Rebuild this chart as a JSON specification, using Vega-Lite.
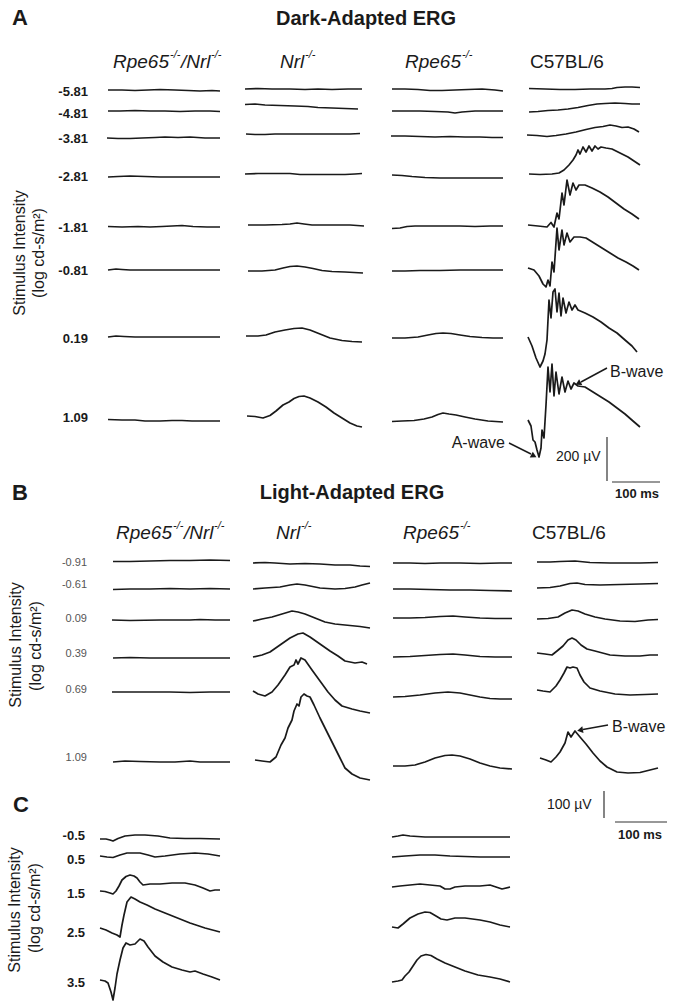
{
"$schema": "https://vega.github.io/schema/vega-lite/v6.json",
"width": 675, "height": 1007,
"autosize": {"type": "fit", "contains": "padding"},
"padding": 0,
"background": "white",
"config": {"view": {"stroke": null}, "font": "Liberation Sans"},
"datasets": {
"traces": [
{"id":"A11","x":108,"y":90},{"id":"A11","x":122,"y":90},{"id":"A11","x":135,"y":90.5},{"id":"A11","x":148,"y":90},{"id":"A11","x":160,"y":89.5},{"id":"A11","x":175,"y":90},{"id":"A11","x":188,"y":90.5},{"id":"A11","x":200,"y":91},{"id":"A11","x":212,"y":90.5},{"id":"A11","x":220,"y":91},
{"id":"A12","x":108,"y":111},{"id":"A12","x":120,"y":111},{"id":"A12","x":135,"y":110.5},{"id":"A12","x":150,"y":111},{"id":"A12","x":165,"y":111},{"id":"A12","x":180,"y":111.5},{"id":"A12","x":195,"y":111},{"id":"A12","x":210,"y":111},{"id":"A12","x":220,"y":111.5},
{"id":"A13","x":107,"y":138},{"id":"A13","x":118,"y":138.5},{"id":"A13","x":130,"y":138.5},{"id":"A13","x":142,"y":138},{"id":"A13","x":155,"y":137.5},{"id":"A13","x":165,"y":137},{"id":"A13","x":178,"y":137.5},{"id":"A13","x":190,"y":137},{"id":"A13","x":205,"y":138},{"id":"A13","x":220,"y":138},
{"id":"A14","x":108,"y":177},{"id":"A14","x":118,"y":176.5},{"id":"A14","x":130,"y":176},{"id":"A14","x":145,"y":176.5},{"id":"A14","x":160,"y":177},{"id":"A14","x":175,"y":177},{"id":"A14","x":190,"y":177},{"id":"A14","x":205,"y":177},{"id":"A14","x":220,"y":177},
{"id":"A15","x":108,"y":226.5},{"id":"A15","x":122,"y":227},{"id":"A15","x":138,"y":226.5},{"id":"A15","x":150,"y":227},{"id":"A15","x":162,"y":226.5},{"id":"A15","x":172,"y":226},{"id":"A15","x":182,"y":225.5},{"id":"A15","x":193,"y":226.5},{"id":"A15","x":207,"y":227},{"id":"A15","x":220,"y":227},
{"id":"A16","x":108,"y":270},{"id":"A16","x":116,"y":269},{"id":"A16","x":122,"y":269.5},{"id":"A16","x":130,"y":270},{"id":"A16","x":145,"y":270},{"id":"A16","x":165,"y":270},{"id":"A16","x":185,"y":270},{"id":"A16","x":205,"y":270},{"id":"A16","x":220,"y":270},
{"id":"A17","x":108,"y":337},{"id":"A17","x":116,"y":336},{"id":"A17","x":124,"y":336.5},{"id":"A17","x":135,"y":337},{"id":"A17","x":155,"y":337},{"id":"A17","x":175,"y":337},{"id":"A17","x":195,"y":337},{"id":"A17","x":220,"y":337},
{"id":"A18","x":108,"y":419.5},{"id":"A18","x":122,"y":420},{"id":"A18","x":135,"y":420},{"id":"A18","x":145,"y":421},{"id":"A18","x":160,"y":421},{"id":"A18","x":172,"y":420.5},{"id":"A18","x":182,"y":420.5},{"id":"A18","x":192,"y":421},{"id":"A18","x":205,"y":421},{"id":"A18","x":220,"y":421},
{"id":"A21","x":245,"y":89},{"id":"A21","x":258,"y":88.5},{"id":"A21","x":272,"y":89},{"id":"A21","x":290,"y":89},{"id":"A21","x":305,"y":89.5},{"id":"A21","x":318,"y":89},{"id":"A21","x":332,"y":89.5},{"id":"A21","x":348,"y":89},{"id":"A21","x":362,"y":89},
{"id":"A22","x":245,"y":104.5},{"id":"A22","x":255,"y":104},{"id":"A22","x":265,"y":105},{"id":"A22","x":280,"y":105.5},{"id":"A22","x":295,"y":106},{"id":"A22","x":308,"y":106.5},{"id":"A22","x":318,"y":107.5},{"id":"A22","x":332,"y":108},{"id":"A22","x":345,"y":108.5},{"id":"A22","x":358,"y":109},
{"id":"A23","x":246,"y":134},{"id":"A23","x":255,"y":134.5},{"id":"A23","x":265,"y":134.5},{"id":"A23","x":275,"y":134},{"id":"A23","x":295,"y":134},{"id":"A23","x":315,"y":134},{"id":"A23","x":335,"y":134},{"id":"A23","x":350,"y":134},{"id":"A23","x":360,"y":133.5},
{"id":"A24","x":245,"y":174},{"id":"A24","x":258,"y":173.5},{"id":"A24","x":272,"y":173.5},{"id":"A24","x":290,"y":173.5},{"id":"A24","x":300,"y":174.5},{"id":"A24","x":315,"y":174.5},{"id":"A24","x":330,"y":174.5},{"id":"A24","x":345,"y":174.5},{"id":"A24","x":355,"y":174},{"id":"A24","x":362,"y":173.5},
{"id":"A25","x":248,"y":225},{"id":"A25","x":265,"y":225},{"id":"A25","x":282,"y":224.5},{"id":"A25","x":290,"y":224},{"id":"A25","x":297,"y":223},{"id":"A25","x":304,"y":224},{"id":"A25","x":312,"y":225},{"id":"A25","x":330,"y":225},{"id":"A25","x":350,"y":225},{"id":"A25","x":364,"y":226},
{"id":"A26","x":248,"y":271},{"id":"A26","x":262,"y":271},{"id":"A26","x":275,"y":270},{"id":"A26","x":283,"y":268},{"id":"A26","x":290,"y":266.5},{"id":"A26","x":297,"y":266},{"id":"A26","x":305,"y":267},{"id":"A26","x":313,"y":268.5},{"id":"A26","x":322,"y":270.5},{"id":"A26","x":332,"y":271.5},{"id":"A26","x":345,"y":272},{"id":"A26","x":363,"y":273},
{"id":"A27","x":246,"y":336},{"id":"A27","x":258,"y":336},{"id":"A27","x":266,"y":335},{"id":"A27","x":275,"y":332},{"id":"A27","x":285,"y":330},{"id":"A27","x":294,"y":328.5},{"id":"A27","x":302,"y":328},{"id":"A27","x":310,"y":330},{"id":"A27","x":320,"y":334},{"id":"A27","x":330,"y":338},{"id":"A27","x":342,"y":340.5},{"id":"A27","x":352,"y":341.5},{"id":"A27","x":362,"y":342},
{"id":"A28","x":247,"y":416},{"id":"A28","x":255,"y":416.5},{"id":"A28","x":263,"y":418},{"id":"A28","x":270,"y":415.5},{"id":"A28","x":276,"y":411},{"id":"A28","x":283,"y":405},{"id":"A28","x":289,"y":402},{"id":"A28","x":294,"y":398.5},{"id":"A28","x":299,"y":396.5},{"id":"A28","x":304,"y":396},{"id":"A28","x":310,"y":398},{"id":"A28","x":318,"y":402},{"id":"A28","x":326,"y":407},{"id":"A28","x":334,"y":413},{"id":"A28","x":342,"y":418},{"id":"A28","x":350,"y":423},{"id":"A28","x":357,"y":426},{"id":"A28","x":362,"y":427},
{"id":"A31","x":392,"y":89},{"id":"A31","x":405,"y":89},{"id":"A31","x":418,"y":89.5},{"id":"A31","x":430,"y":90.5},{"id":"A31","x":442,"y":90.5},{"id":"A31","x":455,"y":90},{"id":"A31","x":468,"y":89.5},{"id":"A31","x":482,"y":89},{"id":"A31","x":495,"y":90},{"id":"A31","x":503,"y":91},
{"id":"A32","x":392,"y":111},{"id":"A32","x":405,"y":111},{"id":"A32","x":420,"y":111},{"id":"A32","x":435,"y":111.5},{"id":"A32","x":448,"y":112},{"id":"A32","x":455,"y":113},{"id":"A32","x":462,"y":112},{"id":"A32","x":475,"y":111},{"id":"A32","x":490,"y":111},{"id":"A32","x":503,"y":111},
{"id":"A33","x":391,"y":136},{"id":"A33","x":405,"y":136},{"id":"A33","x":420,"y":136.5},{"id":"A33","x":435,"y":137},{"id":"A33","x":450,"y":136.5},{"id":"A33","x":465,"y":137},{"id":"A33","x":480,"y":137},{"id":"A33","x":492,"y":137.5},{"id":"A33","x":503,"y":137.5},
{"id":"A34","x":392,"y":175},{"id":"A34","x":402,"y":175.5},{"id":"A34","x":412,"y":176.5},{"id":"A34","x":425,"y":177.5},{"id":"A34","x":440,"y":178},{"id":"A34","x":460,"y":178},{"id":"A34","x":480,"y":178},{"id":"A34","x":503,"y":178},
{"id":"A35","x":392,"y":228.5},{"id":"A35","x":400,"y":228},{"id":"A35","x":407,"y":226.5},{"id":"A35","x":415,"y":226},{"id":"A35","x":430,"y":226},{"id":"A35","x":445,"y":226},{"id":"A35","x":460,"y":226},{"id":"A35","x":475,"y":226.5},{"id":"A35","x":490,"y":226},{"id":"A35","x":503,"y":226},
{"id":"A36","x":392,"y":271},{"id":"A36","x":405,"y":271},{"id":"A36","x":420,"y":270.5},{"id":"A36","x":440,"y":270.5},{"id":"A36","x":460,"y":270},{"id":"A36","x":480,"y":270},{"id":"A36","x":503,"y":270},
{"id":"A37","x":392,"y":338},{"id":"A37","x":405,"y":338},{"id":"A37","x":418,"y":337},{"id":"A37","x":428,"y":335},{"id":"A37","x":436,"y":333.5},{"id":"A37","x":443,"y":333},{"id":"A37","x":451,"y":333.5},{"id":"A37","x":460,"y":335},{"id":"A37","x":470,"y":336.5},{"id":"A37","x":482,"y":337.5},{"id":"A37","x":493,"y":338},{"id":"A37","x":503,"y":338},
{"id":"A38","x":392,"y":421.5},{"id":"A38","x":402,"y":421},{"id":"A38","x":414,"y":420.5},{"id":"A38","x":424,"y":419},{"id":"A38","x":432,"y":417},{"id":"A38","x":438,"y":414.5},{"id":"A38","x":443,"y":413},{"id":"A38","x":449,"y":414},{"id":"A38","x":456,"y":415},{"id":"A38","x":465,"y":417},{"id":"A38","x":475,"y":419},{"id":"A38","x":488,"y":421},{"id":"A38","x":503,"y":422},
{"id":"A41","x":529,"y":88.5},{"id":"A41","x":545,"y":89},{"id":"A41","x":560,"y":89.5},{"id":"A41","x":575,"y":89.5},{"id":"A41","x":590,"y":89},{"id":"A41","x":605,"y":89},{"id":"A41","x":612,"y":88.5},{"id":"A41","x":617,"y":87.5},{"id":"A41","x":625,"y":87},{"id":"A41","x":632,"y":87},{"id":"A41","x":640,"y":87.5},
{"id":"A42","x":529,"y":112},{"id":"A42","x":538,"y":111.5},{"id":"A42","x":548,"y":110.5},{"id":"A42","x":558,"y":110},{"id":"A42","x":568,"y":109},{"id":"A42","x":578,"y":107.5},{"id":"A42","x":588,"y":105.5},{"id":"A42","x":597,"y":104},{"id":"A42","x":605,"y":103.5},{"id":"A42","x":615,"y":103},{"id":"A42","x":625,"y":103.5},{"id":"A42","x":632,"y":104},{"id":"A42","x":640,"y":104},
{"id":"A43","x":527,"y":135},{"id":"A43","x":537,"y":135.5},{"id":"A43","x":547,"y":136.5},{"id":"A43","x":556,"y":135.5},{"id":"A43","x":566,"y":134},{"id":"A43","x":576,"y":132},{"id":"A43","x":586,"y":129.5},{"id":"A43","x":595,"y":127.5},{"id":"A43","x":603,"y":126.5},{"id":"A43","x":610,"y":125},{"id":"A43","x":616,"y":126},{"id":"A43","x":622,"y":127.5},{"id":"A43","x":628,"y":127},{"id":"A43","x":634,"y":129},{"id":"A43","x":639,"y":132},
{"id":"A44","x":529,"y":174},{"id":"A44","x":540,"y":174.5},{"id":"A44","x":552,"y":174},{"id":"A44","x":559,"y":173},{"id":"A44","x":564,"y":170},{"id":"A44","x":569,"y":165},{"id":"A44","x":573,"y":160},{"id":"A44","x":576,"y":155},{"id":"A44","x":578,"y":150},{"id":"A44","x":580,"y":154},{"id":"A44","x":583,"y":147},{"id":"A44","x":586,"y":152},{"id":"A44","x":589,"y":146},{"id":"A44","x":592,"y":151},{"id":"A44","x":595,"y":146},{"id":"A44","x":598,"y":149},{"id":"A44","x":601,"y":147},{"id":"A44","x":606,"y":148},{"id":"A44","x":612,"y":149},{"id":"A44","x":620,"y":153},{"id":"A44","x":628,"y":157},{"id":"A44","x":634,"y":161},{"id":"A44","x":640,"y":165},
{"id":"A45","x":528,"y":225},{"id":"A45","x":538,"y":226},{"id":"A45","x":547,"y":227},{"id":"A45","x":551,"y":222.5},{"id":"A45","x":554,"y":227},{"id":"A45","x":557,"y":213},{"id":"A45","x":559,"y":219},{"id":"A45","x":562,"y":193},{"id":"A45","x":564,"y":205},{"id":"A45","x":567,"y":180},{"id":"A45","x":570,"y":195},{"id":"A45","x":573,"y":183},{"id":"A45","x":576,"y":190},{"id":"A45","x":579,"y":185},{"id":"A45","x":585,"y":185},{"id":"A45","x":592,"y":188},{"id":"A45","x":600,"y":192},{"id":"A45","x":608,"y":197},{"id":"A45","x":616,"y":203},{"id":"A45","x":624,"y":209},{"id":"A45","x":632,"y":214},{"id":"A45","x":639,"y":219},
{"id":"A46","x":528,"y":268},{"id":"A46","x":534,"y":270},{"id":"A46","x":539,"y":276},{"id":"A46","x":543,"y":284},{"id":"A46","x":546,"y":287},{"id":"A46","x":548,"y":280},{"id":"A46","x":550,"y":286},{"id":"A46","x":552,"y":262},{"id":"A46","x":554,"y":272},{"id":"A46","x":557,"y":228},{"id":"A46","x":559,"y":250},{"id":"A46","x":562,"y":230},{"id":"A46","x":564,"y":245},{"id":"A46","x":567,"y":233},{"id":"A46","x":570,"y":242},{"id":"A46","x":574,"y":237},{"id":"A46","x":580,"y":237},{"id":"A46","x":586,"y":238},{"id":"A46","x":594,"y":243},{"id":"A46","x":602,"y":248},{"id":"A46","x":610,"y":253},{"id":"A46","x":618,"y":258},{"id":"A46","x":626,"y":262},{"id":"A46","x":633,"y":266},{"id":"A46","x":639,"y":270},
{"id":"A47","x":528,"y":337},{"id":"A47","x":532,"y":346},{"id":"A47","x":536,"y":358},{"id":"A47","x":540,"y":367},{"id":"A47","x":543,"y":361},{"id":"A47","x":545,"y":354},{"id":"A47","x":547,"y":340},{"id":"A47","x":549,"y":300},{"id":"A47","x":551,"y":318},{"id":"A47","x":553,"y":292},{"id":"A47","x":555,"y":289},{"id":"A47","x":557,"y":312},{"id":"A47","x":559,"y":293},{"id":"A47","x":561,"y":316},{"id":"A47","x":563,"y":298},{"id":"A47","x":566,"y":313},{"id":"A47","x":569,"y":302},{"id":"A47","x":572,"y":310},{"id":"A47","x":575,"y":305},{"id":"A47","x":578,"y":310},{"id":"A47","x":585,"y":313},{"id":"A47","x":593,"y":317},{"id":"A47","x":601,"y":322},{"id":"A47","x":609,"y":328},{"id":"A47","x":617,"y":333},{"id":"A47","x":625,"y":340},{"id":"A47","x":632,"y":346},{"id":"A47","x":637,"y":352},
{"id":"A48","x":528,"y":420},{"id":"A48","x":531,"y":426},{"id":"A48","x":533,"y":440},{"id":"A48","x":535,"y":442},{"id":"A48","x":537,"y":450},{"id":"A48","x":539,"y":457},{"id":"A48","x":541,"y":448},{"id":"A48","x":542,"y":430},{"id":"A48","x":544,"y":438},{"id":"A48","x":546,"y":405},{"id":"A48","x":548,"y":367},{"id":"A48","x":550,"y":392},{"id":"A48","x":552,"y":364},{"id":"A48","x":554,"y":396},{"id":"A48","x":556,"y":372},{"id":"A48","x":559,"y":394},{"id":"A48","x":562,"y":377},{"id":"A48","x":565,"y":392},{"id":"A48","x":568,"y":381},{"id":"A48","x":571,"y":389},{"id":"A48","x":574,"y":383},{"id":"A48","x":578,"y":386},{"id":"A48","x":585,"y":387},{"id":"A48","x":593,"y":392},{"id":"A48","x":601,"y":397},{"id":"A48","x":609,"y":402},{"id":"A48","x":617,"y":408},{"id":"A48","x":625,"y":414},{"id":"A48","x":633,"y":421},{"id":"A48","x":640,"y":427},
{"id":"B11","x":113,"y":561.5},{"id":"B11","x":130,"y":561.5},{"id":"B11","x":150,"y":561},{"id":"B11","x":170,"y":560.5},{"id":"B11","x":190,"y":560.5},{"id":"B11","x":210,"y":560},{"id":"B11","x":230,"y":560.5},
{"id":"B12","x":113,"y":589.5},{"id":"B12","x":130,"y":589},{"id":"B12","x":150,"y":589},{"id":"B12","x":170,"y":588.5},{"id":"B12","x":190,"y":589},{"id":"B12","x":210,"y":588.5},{"id":"B12","x":230,"y":589},
{"id":"B13","x":112,"y":620},{"id":"B13","x":130,"y":620.5},{"id":"B13","x":160,"y":620},{"id":"B13","x":190,"y":620},{"id":"B13","x":200,"y":619.5},{"id":"B13","x":215,"y":620},{"id":"B13","x":230,"y":620},
{"id":"B14","x":113,"y":658},{"id":"B14","x":130,"y":657.5},{"id":"B14","x":150,"y":658},{"id":"B14","x":170,"y":658},{"id":"B14","x":190,"y":658},{"id":"B14","x":215,"y":658},{"id":"B14","x":230,"y":658},
{"id":"B15","x":112,"y":692},{"id":"B15","x":130,"y":692},{"id":"B15","x":150,"y":692},{"id":"B15","x":170,"y":692},{"id":"B15","x":190,"y":692.5},{"id":"B15","x":210,"y":692},{"id":"B15","x":230,"y":692},
{"id":"B16","x":113,"y":762},{"id":"B16","x":125,"y":761},{"id":"B16","x":140,"y":761.5},{"id":"B16","x":160,"y":762},{"id":"B16","x":175,"y":762},{"id":"B16","x":190,"y":761},{"id":"B16","x":200,"y":762},{"id":"B16","x":215,"y":762},{"id":"B16","x":230,"y":762},
{"id":"B21","x":253,"y":563},{"id":"B21","x":265,"y":562.5},{"id":"B21","x":275,"y":563},{"id":"B21","x":290,"y":564},{"id":"B21","x":305,"y":563.5},{"id":"B21","x":320,"y":564},{"id":"B21","x":335,"y":565},{"id":"B21","x":350,"y":565},{"id":"B21","x":360,"y":566},{"id":"B21","x":370,"y":566.5},
{"id":"B22","x":253,"y":589},{"id":"B22","x":265,"y":588},{"id":"B22","x":280,"y":587},{"id":"B22","x":290,"y":585},{"id":"B22","x":297,"y":584},{"id":"B22","x":305,"y":585},{"id":"B22","x":320,"y":588},{"id":"B22","x":335,"y":589},{"id":"B22","x":345,"y":588.5},{"id":"B22","x":355,"y":587},{"id":"B22","x":362,"y":585},{"id":"B22","x":370,"y":583},
{"id":"B23","x":253,"y":621},{"id":"B23","x":262,"y":619},{"id":"B23","x":272,"y":617},{"id":"B23","x":282,"y":614},{"id":"B23","x":292,"y":611},{"id":"B23","x":298,"y":612},{"id":"B23","x":305,"y":614},{"id":"B23","x":315,"y":618},{"id":"B23","x":325,"y":622},{"id":"B23","x":335,"y":624},{"id":"B23","x":345,"y":625},{"id":"B23","x":360,"y":626.5},{"id":"B23","x":370,"y":628},
{"id":"B24","x":253,"y":657},{"id":"B24","x":262,"y":655},{"id":"B24","x":270,"y":652},{"id":"B24","x":280,"y":645},{"id":"B24","x":290,"y":638},{"id":"B24","x":298,"y":634},{"id":"B24","x":303,"y":633},{"id":"B24","x":310,"y":637},{"id":"B24","x":320,"y":644},{"id":"B24","x":330,"y":651},{"id":"B24","x":338,"y":656},{"id":"B24","x":345,"y":661},{"id":"B24","x":355,"y":663},{"id":"B24","x":362,"y":662},{"id":"B24","x":367,"y":664},
{"id":"B25","x":253,"y":691},{"id":"B25","x":258,"y":694},{"id":"B25","x":265,"y":696},{"id":"B25","x":272,"y":692},{"id":"B25","x":278,"y":685},{"id":"B25","x":285,"y":675},{"id":"B25","x":290,"y":667},{"id":"B25","x":294,"y":665},{"id":"B25","x":296,"y":660},{"id":"B25","x":298,"y":664},{"id":"B25","x":301,"y":658},{"id":"B25","x":305,"y":660},{"id":"B25","x":312,"y":670},{"id":"B25","x":320,"y":681},{"id":"B25","x":328,"y":692},{"id":"B25","x":335,"y":700},{"id":"B25","x":342,"y":706},{"id":"B25","x":352,"y":709},{"id":"B25","x":360,"y":711},{"id":"B25","x":370,"y":713},
{"id":"B26","x":255,"y":760},{"id":"B26","x":262,"y":761},{"id":"B26","x":270,"y":762},{"id":"B26","x":276,"y":757},{"id":"B26","x":281,"y":745},{"id":"B26","x":285,"y":738},{"id":"B26","x":288,"y":728},{"id":"B26","x":292,"y":720},{"id":"B26","x":294,"y":711},{"id":"B26","x":297,"y":704},{"id":"B26","x":299,"y":706},{"id":"B26","x":301,"y":697},{"id":"B26","x":304,"y":694},{"id":"B26","x":307,"y":696},{"id":"B26","x":310,"y":697},{"id":"B26","x":314,"y":705},{"id":"B26","x":320,"y":718},{"id":"B26","x":327,"y":732},{"id":"B26","x":334,"y":746},{"id":"B26","x":340,"y":758},{"id":"B26","x":345,"y":768},{"id":"B26","x":352,"y":774},{"id":"B26","x":360,"y":778},{"id":"B26","x":370,"y":780},
{"id":"B31","x":393,"y":563},{"id":"B31","x":410,"y":563},{"id":"B31","x":425,"y":563.5},{"id":"B31","x":440,"y":563},{"id":"B31","x":460,"y":563},{"id":"B31","x":480,"y":563.5},{"id":"B31","x":500,"y":563},{"id":"B31","x":512,"y":563},
{"id":"B32","x":393,"y":589},{"id":"B32","x":410,"y":589},{"id":"B32","x":430,"y":589.5},{"id":"B32","x":450,"y":590},{"id":"B32","x":470,"y":590},{"id":"B32","x":490,"y":590.5},{"id":"B32","x":512,"y":591},
{"id":"B33","x":393,"y":618},{"id":"B33","x":410,"y":618},{"id":"B33","x":425,"y":617.5},{"id":"B33","x":440,"y":616.5},{"id":"B33","x":453,"y":616},{"id":"B33","x":465,"y":617},{"id":"B33","x":480,"y":618},{"id":"B33","x":495,"y":618.5},{"id":"B33","x":512,"y":618.5},
{"id":"B34","x":393,"y":657},{"id":"B34","x":410,"y":656.5},{"id":"B34","x":425,"y":655.5},{"id":"B34","x":440,"y":654.5},{"id":"B34","x":453,"y":654},{"id":"B34","x":465,"y":655},{"id":"B34","x":480,"y":656.5},{"id":"B34","x":495,"y":657},{"id":"B34","x":512,"y":657},
{"id":"B35","x":393,"y":697},{"id":"B35","x":405,"y":696.5},{"id":"B35","x":420,"y":695},{"id":"B35","x":435,"y":693},{"id":"B35","x":448,"y":692},{"id":"B35","x":460,"y":693},{"id":"B35","x":470,"y":695},{"id":"B35","x":480,"y":697},{"id":"B35","x":490,"y":698.5},{"id":"B35","x":500,"y":699},{"id":"B35","x":512,"y":699},
{"id":"B36","x":393,"y":766},{"id":"B36","x":405,"y":766},{"id":"B36","x":415,"y":765},{"id":"B36","x":425,"y":762},{"id":"B36","x":435,"y":758},{"id":"B36","x":445,"y":755.5},{"id":"B36","x":452,"y":755},{"id":"B36","x":460,"y":756},{"id":"B36","x":470,"y":759},{"id":"B36","x":480,"y":763},{"id":"B36","x":490,"y":766},{"id":"B36","x":500,"y":768},{"id":"B36","x":512,"y":769},
{"id":"B41","x":537,"y":562},{"id":"B41","x":550,"y":562},{"id":"B41","x":560,"y":561.5},{"id":"B41","x":575,"y":561},{"id":"B41","x":590,"y":562.5},{"id":"B41","x":610,"y":563},{"id":"B41","x":625,"y":563},{"id":"B41","x":640,"y":563},{"id":"B41","x":658,"y":562.5},
{"id":"B42","x":537,"y":588},{"id":"B42","x":550,"y":587.5},{"id":"B42","x":560,"y":586},{"id":"B42","x":570,"y":583.5},{"id":"B42","x":577,"y":583},{"id":"B42","x":585,"y":584.5},{"id":"B42","x":600,"y":585},{"id":"B42","x":620,"y":584.5},{"id":"B42","x":640,"y":584},{"id":"B42","x":658,"y":583.5},
{"id":"B43","x":537,"y":619},{"id":"B43","x":548,"y":618.5},{"id":"B43","x":558,"y":617},{"id":"B43","x":565,"y":613},{"id":"B43","x":572,"y":610},{"id":"B43","x":578,"y":611},{"id":"B43","x":585,"y":614},{"id":"B43","x":595,"y":617},{"id":"B43","x":605,"y":619},{"id":"B43","x":620,"y":621},{"id":"B43","x":635,"y":621.5},{"id":"B43","x":648,"y":620},{"id":"B43","x":658,"y":619.5},
{"id":"B44","x":537,"y":653},{"id":"B44","x":545,"y":654},{"id":"B44","x":552,"y":655},{"id":"B44","x":557,"y":651},{"id":"B44","x":563,"y":646},{"id":"B44","x":568,"y":640},{"id":"B44","x":572,"y":638},{"id":"B44","x":576,"y":640},{"id":"B44","x":581,"y":645},{"id":"B44","x":587,"y":649},{"id":"B44","x":595,"y":651},{"id":"B44","x":610,"y":655},{"id":"B44","x":625,"y":656},{"id":"B44","x":640,"y":656},{"id":"B44","x":650,"y":655},{"id":"B44","x":658,"y":655},
{"id":"B45","x":537,"y":690},{"id":"B45","x":543,"y":691},{"id":"B45","x":550,"y":692},{"id":"B45","x":556,"y":686},{"id":"B45","x":560,"y":680},{"id":"B45","x":564,"y":673},{"id":"B45","x":567,"y":667},{"id":"B45","x":570,"y":668},{"id":"B45","x":573,"y":667},{"id":"B45","x":577,"y":668},{"id":"B45","x":580,"y":675},{"id":"B45","x":584,"y":682},{"id":"B45","x":590,"y":688},{"id":"B45","x":600,"y":691},{"id":"B45","x":615,"y":694},{"id":"B45","x":630,"y":695},{"id":"B45","x":645,"y":694.5},{"id":"B45","x":658,"y":694},
{"id":"B46","x":540,"y":758},{"id":"B46","x":546,"y":760},{"id":"B46","x":551,"y":762},{"id":"B46","x":556,"y":757},{"id":"B46","x":560,"y":752},{"id":"B46","x":565,"y":743},{"id":"B46","x":568,"y":732},{"id":"B46","x":571,"y":737},{"id":"B46","x":575,"y":731},{"id":"B46","x":580,"y":737},{"id":"B46","x":586,"y":744},{"id":"B46","x":593,"y":753},{"id":"B46","x":600,"y":761},{"id":"B46","x":607,"y":767},{"id":"B46","x":617,"y":772},{"id":"B46","x":628,"y":773},{"id":"B46","x":640,"y":772.5},{"id":"B46","x":650,"y":770},{"id":"B46","x":658,"y":768},
{"id":"C11","x":100,"y":839},{"id":"C11","x":106,"y":839},{"id":"C11","x":110,"y":840},{"id":"C11","x":113,"y":841},{"id":"C11","x":118,"y":838.5},{"id":"C11","x":125,"y":836},{"id":"C11","x":135,"y":835},{"id":"C11","x":145,"y":835},{"id":"C11","x":158,"y":836},{"id":"C11","x":170,"y":838},{"id":"C11","x":185,"y":838.5},{"id":"C11","x":200,"y":838.5},{"id":"C11","x":220,"y":839},
{"id":"C12","x":100,"y":856},{"id":"C12","x":107,"y":857},{"id":"C12","x":113,"y":857.5},{"id":"C12","x":120,"y":855},{"id":"C12","x":127,"y":853},{"id":"C12","x":140,"y":853},{"id":"C12","x":148,"y":855},{"id":"C12","x":155,"y":857},{"id":"C12","x":165,"y":856},{"id":"C12","x":180,"y":854},{"id":"C12","x":195,"y":853},{"id":"C12","x":208,"y":854},{"id":"C12","x":220,"y":856},
{"id":"C13","x":100,"y":891},{"id":"C13","x":105,"y":891.5},{"id":"C13","x":110,"y":893},{"id":"C13","x":113,"y":894},{"id":"C13","x":116,"y":891},{"id":"C13","x":119,"y":886},{"id":"C13","x":122,"y":880},{"id":"C13","x":126,"y":876.5},{"id":"C13","x":130,"y":875},{"id":"C13","x":134,"y":876},{"id":"C13","x":137,"y":878},{"id":"C13","x":140,"y":882},{"id":"C13","x":143,"y":885},{"id":"C13","x":150,"y":884},{"id":"C13","x":160,"y":884},{"id":"C13","x":172,"y":883},{"id":"C13","x":185,"y":883},{"id":"C13","x":195,"y":885},{"id":"C13","x":203,"y":888},{"id":"C13","x":210,"y":891},{"id":"C13","x":215,"y":890},{"id":"C13","x":220,"y":890},
{"id":"C14","x":100,"y":928},{"id":"C14","x":106,"y":930},{"id":"C14","x":112,"y":933},{"id":"C14","x":117,"y":935},{"id":"C14","x":120,"y":937},{"id":"C14","x":122,"y":925},{"id":"C14","x":124,"y":915},{"id":"C14","x":127,"y":902},{"id":"C14","x":131,"y":897},{"id":"C14","x":135,"y":899},{"id":"C14","x":140,"y":902},{"id":"C14","x":147,"y":905},{"id":"C14","x":155,"y":909},{"id":"C14","x":165,"y":913},{"id":"C14","x":175,"y":917},{"id":"C14","x":190,"y":923},{"id":"C14","x":205,"y":928},{"id":"C14","x":220,"y":932},
{"id":"C15","x":100,"y":980},{"id":"C15","x":105,"y":981},{"id":"C15","x":108,"y":983},{"id":"C15","x":111,"y":992},{"id":"C15","x":113,"y":1000},{"id":"C15","x":115,"y":988},{"id":"C15","x":117,"y":974},{"id":"C15","x":120,"y":960},{"id":"C15","x":123,"y":948},{"id":"C15","x":126,"y":943},{"id":"C15","x":130,"y":945},{"id":"C15","x":135,"y":944},{"id":"C15","x":140,"y":939},{"id":"C15","x":144,"y":941},{"id":"C15","x":148,"y":947},{"id":"C15","x":155,"y":956},{"id":"C15","x":163,"y":962},{"id":"C15","x":172,"y":967},{"id":"C15","x":182,"y":970},{"id":"C15","x":190,"y":972},{"id":"C15","x":195,"y":971},{"id":"C15","x":203,"y":974},{"id":"C15","x":212,"y":977},{"id":"C15","x":220,"y":980},
{"id":"C31","x":392,"y":837},{"id":"C31","x":398,"y":836},{"id":"C31","x":403,"y":835},{"id":"C31","x":410,"y":836},{"id":"C31","x":425,"y":837},{"id":"C31","x":445,"y":837},{"id":"C31","x":470,"y":837},{"id":"C31","x":490,"y":837},{"id":"C31","x":510,"y":837},
{"id":"C32","x":392,"y":857},{"id":"C32","x":405,"y":856},{"id":"C32","x":420,"y":855},{"id":"C32","x":435,"y":855},{"id":"C32","x":450,"y":856},{"id":"C32","x":465,"y":856.5},{"id":"C32","x":480,"y":857},{"id":"C32","x":495,"y":857},{"id":"C32","x":510,"y":857},
{"id":"C33","x":392,"y":887},{"id":"C33","x":400,"y":886},{"id":"C33","x":410,"y":885},{"id":"C33","x":420,"y":884},{"id":"C33","x":430,"y":885},{"id":"C33","x":440,"y":886},{"id":"C33","x":445,"y":889},{"id":"C33","x":450,"y":889},{"id":"C33","x":455,"y":887},{"id":"C33","x":465,"y":886},{"id":"C33","x":480,"y":886},{"id":"C33","x":490,"y":885},{"id":"C33","x":496,"y":887},{"id":"C33","x":502,"y":889},{"id":"C33","x":510,"y":887},
{"id":"C34","x":392,"y":927},{"id":"C34","x":398,"y":928},{"id":"C34","x":403,"y":924},{"id":"C34","x":410,"y":918},{"id":"C34","x":418,"y":914},{"id":"C34","x":425,"y":912},{"id":"C34","x":430,"y":912.5},{"id":"C34","x":436,"y":916},{"id":"C34","x":441,"y":919},{"id":"C34","x":447,"y":920},{"id":"C34","x":455,"y":918},{"id":"C34","x":465,"y":918},{"id":"C34","x":480,"y":920},{"id":"C34","x":490,"y":922},{"id":"C34","x":500,"y":925},{"id":"C34","x":510,"y":927},
{"id":"C35","x":392,"y":982},{"id":"C35","x":398,"y":981},{"id":"C35","x":402,"y":980},{"id":"C35","x":405,"y":976},{"id":"C35","x":409,"y":972},{"id":"C35","x":413,"y":966},{"id":"C35","x":417,"y":960},{"id":"C35","x":421,"y":956},{"id":"C35","x":426,"y":954.5},{"id":"C35","x":431,"y":955.5},{"id":"C35","x":437,"y":959},{"id":"C35","x":445,"y":963},{"id":"C35","x":455,"y":967},{"id":"C35","x":465,"y":971},{"id":"C35","x":478,"y":975},{"id":"C35","x":490,"y":977},{"id":"C35","x":500,"y":979},{"id":"C35","x":510,"y":982}
],
"bars": [
{"x":607,"y":437,"x2":607,"y2":481},{"x":612,"y":482,"x2":660,"y2":482},
{"x":604,"y":791,"x2":604,"y2":818},{"x":615,"y":822,"x2":667,"y2":822}
],
"arrows": [
{"x":509,"y":443,"x2":531,"y2":454},{"x":607,"y":368,"x2":581,"y2":382},{"x":608,"y":725,"x2":583,"y2":729.5}
],
"heads": [
{"id":"a","x":533,"y":455.5},{"id":"b","x":579,"y":383},{"id":"c","x":581,"y":730}
],
"labels": [
{"kind":"panel","text":"A","x":20,"y":18},{"kind":"panel","text":"B","x":20,"y":493},{"kind":"panel","text":"C","x":21,"y":805},
{"kind":"title","text":"Dark-Adapted ERG","x":366,"y":19},{"kind":"title","text":"Light-Adapted ERG","x":352,"y":493},
{"kind":"hdr","text":"Rpe65","x":113,"y":62},{"kind":"hdr","text":"/Nrl","x":181,"y":62},{"kind":"hdr","text":"Nrl","x":280,"y":62},{"kind":"hdr","text":"Rpe65","x":405,"y":62},
{"kind":"hdr","text":"Rpe65","x":116,"y":533},{"kind":"hdr","text":"/Nrl","x":184,"y":533},{"kind":"hdr","text":"Nrl","x":276,"y":533},{"kind":"hdr","text":"Rpe65","x":403,"y":533},
{"kind":"hdrup","text":"C57BL/6","x":530,"y":62},{"kind":"hdrup","text":"C57BL/6","x":532,"y":533},
{"kind":"sup","text":"-/-","x":170,"y":62},{"kind":"sup","text":"-/-","x":211,"y":62},{"kind":"sup","text":"-/-","x":305,"y":62},{"kind":"sup","text":"-/-","x":462,"y":62},
{"kind":"sup","text":"-/-","x":173,"y":533},{"kind":"sup","text":"-/-","x":214,"y":533},{"kind":"sup","text":"-/-","x":301,"y":533},{"kind":"sup","text":"-/-","x":460,"y":533},
{"kind":"lblA","text":"-5.81","x":88,"y":92},{"kind":"lblA","text":"-4.81","x":88,"y":114},{"kind":"lblA","text":"-3.81","x":88,"y":139},{"kind":"lblA","text":"-2.81","x":88,"y":177},{"kind":"lblA","text":"-1.81","x":88,"y":228},{"kind":"lblA","text":"-0.81","x":88,"y":271},{"kind":"lblA","text":"0.19","x":88,"y":339},{"kind":"lblA","text":"1.09","x":88,"y":418},
{"kind":"lblB","text":"-0.91","x":87,"y":563},{"kind":"lblB","text":"-0.61","x":87,"y":585},{"kind":"lblB","text":"0.09","x":87,"y":619},{"kind":"lblB","text":"0.39","x":87,"y":654},{"kind":"lblB","text":"0.69","x":87,"y":690},{"kind":"lblB","text":"1.09","x":87,"y":758},
{"kind":"lblC","text":"-0.5","x":85,"y":836},{"kind":"lblC","text":"0.5","x":85,"y":860},{"kind":"lblC","text":"1.5","x":85,"y":894},{"kind":"lblC","text":"2.5","x":85,"y":933},{"kind":"lblC","text":"3.5","x":85,"y":983},
{"kind":"ytitle","text":"Stimulus Intensity","x":20,"y":253},{"kind":"ytitle","text":"(log cd-s/m²)","x":39,"y":253},
{"kind":"ytitle","text":"Stimulus Intensity","x":16,"y":645},{"kind":"ytitle","text":"(log cd-s/m²)","x":36,"y":646},
{"kind":"ytitle","text":"Stimulus Intensity","x":15,"y":910},{"kind":"ytitle","text":"(log cd-s/m²)","x":35,"y":908},
{"kind":"ann","text":"B-wave","x":610,"y":372},{"kind":"ann","text":"B-wave","x":612,"y":727},
{"kind":"annR","text":"A-wave","x":505,"y":443},
{"kind":"unit","text":"200 µV","x":556,"y":457},{"kind":"unit","text":"100 µV","x":547,"y":805},
{"kind":"ms","text":"100 ms","x":615,"y":494},{"kind":"ms","text":"100 ms","x":618,"y":835}
]
},
"encoding": {
"x": {"field": "x", "type": "quantitative", "scale": {"domain": [0, 675], "nice": false, "zero": false}, "axis": null},
"y": {"field": "y", "type": "quantitative", "scale": {"domain": [0, 1007], "reverse": true, "nice": false, "zero": false}, "axis": null}
},
"layer": [
{"data": {"name": "traces"}, "mark": {"type": "line", "color": "#1a1a1a", "strokeWidth": 1.7, "strokeJoin": "round"}, "encoding": {"detail": {"field": "id"}}},
{"data": {"name": "bars"}, "mark": {"type": "rule", "color": "#333", "strokeWidth": 1.2}, "encoding": {"x2": {"field": "x2"}, "y2": {"field": "y2"}}},
{"data": {"name": "arrows"}, "mark": {"type": "rule", "color": "#1a1a1a", "strokeWidth": 1.5}, "encoding": {"x2": {"field": "x2"}, "y2": {"field": "y2"}}},
{"data": {"name": "heads"}, "transform": [{"filter": "datum.id === 'a'"}], "mark": {"type": "point", "shape": "triangle", "filled": true, "color": "#1a1a1a", "size": 45, "angle": 117, "opacity": 1}},
{"data": {"name": "heads"}, "transform": [{"filter": "datum.id === 'b'"}], "mark": {"type": "point", "shape": "triangle", "filled": true, "color": "#1a1a1a", "size": 45, "angle": 242, "opacity": 1}},
{"data": {"name": "heads"}, "transform": [{"filter": "datum.id === 'c'"}], "mark": {"type": "point", "shape": "triangle", "filled": true, "color": "#1a1a1a", "size": 45, "angle": 260, "opacity": 1}},
{"data": {"name": "labels"}, "transform": [{"filter": "datum.kind === 'panel'"}], "mark": {"type": "text", "fontSize": 22, "fontWeight": "bold", "align": "center", "baseline": "middle", "color": "#1a1a1a"}, "encoding": {"text": {"field": "text"}}},
{"data": {"name": "labels"}, "transform": [{"filter": "datum.kind === 'title'"}], "mark": {"type": "text", "fontSize": 20, "fontWeight": "bold", "align": "center", "baseline": "middle", "color": "#1a1a1a"}, "encoding": {"text": {"field": "text"}}},
{"data": {"name": "labels"}, "transform": [{"filter": "datum.kind === 'hdr'"}], "mark": {"type": "text", "fontSize": 19, "fontStyle": "italic", "align": "left", "baseline": "middle", "color": "#1a1a1a"}, "encoding": {"text": {"field": "text"}}},
{"data": {"name": "labels"}, "transform": [{"filter": "datum.kind === 'hdrup'"}], "mark": {"type": "text", "fontSize": 19, "align": "left", "baseline": "middle", "color": "#1a1a1a"}, "encoding": {"text": {"field": "text"}}},
{"data": {"name": "labels"}, "transform": [{"filter": "datum.kind === 'sup'"}], "mark": {"type": "text", "fontSize": 11, "fontStyle": "italic", "align": "left", "baseline": "middle", "dy": -7, "color": "#1a1a1a"}, "encoding": {"text": {"field": "text"}}},
{"data": {"name": "labels"}, "transform": [{"filter": "datum.kind === 'lblA'"}], "mark": {"type": "text", "fontSize": 13, "fontWeight": "bold", "align": "right", "baseline": "middle", "color": "#1a1a1a"}, "encoding": {"text": {"field": "text"}}},
{"data": {"name": "labels"}, "transform": [{"filter": "datum.kind === 'lblB'"}], "mark": {"type": "text", "fontSize": 11, "align": "right", "baseline": "middle", "color": "#555"}, "encoding": {"text": {"field": "text"}}},
{"data": {"name": "labels"}, "transform": [{"filter": "datum.kind === 'lblC'"}], "mark": {"type": "text", "fontSize": 13, "fontWeight": "bold", "align": "right", "baseline": "middle", "color": "#1a1a1a"}, "encoding": {"text": {"field": "text"}}},
{"data": {"name": "labels"}, "transform": [{"filter": "datum.kind === 'ytitle'"}], "mark": {"type": "text", "fontSize": 16, "angle": 270, "align": "center", "baseline": "middle", "color": "#1a1a1a"}, "encoding": {"text": {"field": "text"}}},
{"data": {"name": "labels"}, "transform": [{"filter": "datum.kind === 'ann'"}], "mark": {"type": "text", "fontSize": 16, "align": "left", "baseline": "middle", "color": "#1a1a1a"}, "encoding": {"text": {"field": "text"}}},
{"data": {"name": "labels"}, "transform": [{"filter": "datum.kind === 'annR'"}], "mark": {"type": "text", "fontSize": 16, "align": "right", "baseline": "middle", "color": "#1a1a1a"}, "encoding": {"text": {"field": "text"}}},
{"data": {"name": "labels"}, "transform": [{"filter": "datum.kind === 'unit'"}], "mark": {"type": "text", "fontSize": 14, "align": "left", "baseline": "middle", "color": "#1a1a1a"}, "encoding": {"text": {"field": "text"}}},
{"data": {"name": "labels"}, "transform": [{"filter": "datum.kind === 'ms'"}], "mark": {"type": "text", "fontSize": 13, "fontWeight": "bold", "align": "left", "baseline": "middle", "color": "#1a1a1a"}, "encoding": {"text": {"field": "text"}}}
]
}
